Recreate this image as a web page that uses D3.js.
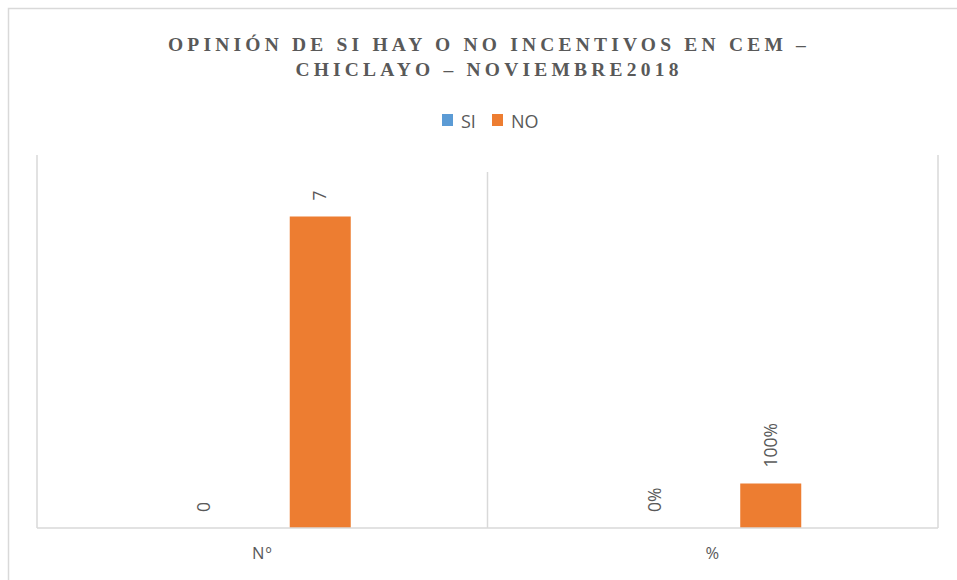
<!DOCTYPE html>
<html>
<head>
<meta charset="utf-8">
<script src="https://cdn.jsdelivr.net/npm/d3@7"></script>
<style>
  body { margin: 0; background: #fff; }
  svg { display: block; }
</style>
</head>
<body>
<svg id="chart" width="957" height="580"></svg>
<script>
const titleLines = ["OPINIÓN DE SI HAY O NO INCENTIVOS EN CEM –", "CHICLAYO – NOVIEMBRE2018"];
const categories = ["Nº", "%"];
const seriesNames = ["SI", "NO"];
const seriesColors = ["#5b9bd5", "#ed7d31"];
const siValues = [0, 0];
const noValues = [7, 1];
const siLabels = ["0", "0%"];
const noLabels = ["7", "100%"];

const svg = d3.select("#chart");
const plot = { left: 37, right: 938, top: 172, bottom: 528 };
const grey = "#595959";
const lineCol = "#d9d9d9";
const sans = "'Open Sans', 'Liberation Sans', sans-serif";

// outer frame (only top and left edges are visible)
svg.append("path")
  .attr("d", "M8.5,580 V8.5 H957")
  .attr("fill", "none")
  .attr("stroke", lineCol)
  .attr("stroke-width", 1.5);

// title
svg.append("text")
  .attr("text-anchor", "middle")
  .attr("font-family", "'Liberation Serif', 'Times New Roman', serif")
  .attr("font-weight", "bold")
  .attr("font-size", 19.5)
  .attr("letter-spacing", 4.2)
  .attr("fill", grey)
  .selectAll("tspan")
  .data(titleLines)
  .enter()
  .append("tspan")
  .attr("x", 489)
  .attr("y", (d, i) => 51 + i * 25)
  .text(d => d);

// legend
const legend = svg.append("g").attr("font-family", sans).attr("font-size", 18).attr("fill", grey);
const legendX = [442, 492];
seriesNames.forEach((name, i) => {
  legend.append("rect")
    .attr("x", legendX[i])
    .attr("y", 114)
    .attr("width", 11)
    .attr("height", 12)
    .attr("fill", seriesColors[i]);
  legend.append("text")
    .attr("x", legendX[i] + 19)
    .attr("y", 128)
    .text(name);
});

const x0 = d3.scaleBand()
  .domain(categories)
  .range([plot.left, plot.right]);

const x1 = d3.scaleBand()
  .domain(seriesNames)
  .range([0, x0.bandwidth()])
  .paddingInner(0.474)
  .paddingOuter(1.179);

const y = d3.scaleLinear()
  .domain([0, 8])
  .range([plot.bottom, plot.top]);

const g = svg.append("g");

// plot borders and category separator
[plot.left, plot.right].forEach(xp => {
  g.append("line")
    .attr("x1", xp).attr("x2", xp)
    .attr("y1", 155).attr("y2", plot.bottom)
    .attr("stroke", lineCol).attr("stroke-width", 1.5);
});
g.append("line")
  .attr("x1", x0(categories[1])).attr("x2", x0(categories[1]))
  .attr("y1", y(8)).attr("y2", plot.bottom)
  .attr("stroke", lineCol).attr("stroke-width", 1.5);

const rows = categories.map((c, i) => ({
  cat: c,
  bars: [
    { key: "SI", value: siValues[i], label: siLabels[i], color: seriesColors[0] },
    { key: "NO", value: noValues[i], label: noLabels[i], color: seriesColors[1] }
  ]
}));

const groups = g.selectAll(".cat")
  .data(rows)
  .enter()
  .append("g")
  .attr("class", "cat")
  .attr("transform", d => `translate(${x0(d.cat)},0)`);

groups.selectAll("rect")
  .data(d => d.bars)
  .enter()
  .append("rect")
  .attr("x", d => x1(d.key))
  .attr("y", d => y(d.value))
  .attr("width", x1.bandwidth())
  .attr("height", d => y(0) - y(d.value))
  .attr("fill", d => d.color);

groups.selectAll(".lbl")
  .data(d => d.bars)
  .enter()
  .append("text")
  .attr("class", "lbl")
  .attr("transform", d => `translate(${x1(d.key) + x1.bandwidth() / 2},${y(d.value) - 16}) rotate(-90)`)
  .attr("dy", "0.35em")
  .attr("font-family", sans)
  .attr("font-size", 17.5)
  .attr("fill", grey)
  .text(d => d.label);

// x axis
g.append("line")
  .attr("x1", plot.left).attr("x2", plot.right)
  .attr("y1", plot.bottom).attr("y2", plot.bottom)
  .attr("stroke", lineCol).attr("stroke-width", 1.5);

g.selectAll(".cat-label")
  .data(categories)
  .enter()
  .append("text")
  .attr("class", "cat-label")
  .attr("x", d => x0(d) + x0.bandwidth() / 2)
  .attr("y", 559)
  .attr("text-anchor", "middle")
  .attr("font-family", sans)
  .attr("font-size", 16.5)
  .attr("letter-spacing", 1)
  .attr("fill", grey)
  .text(d => d);
</script>
</body>
</html>
